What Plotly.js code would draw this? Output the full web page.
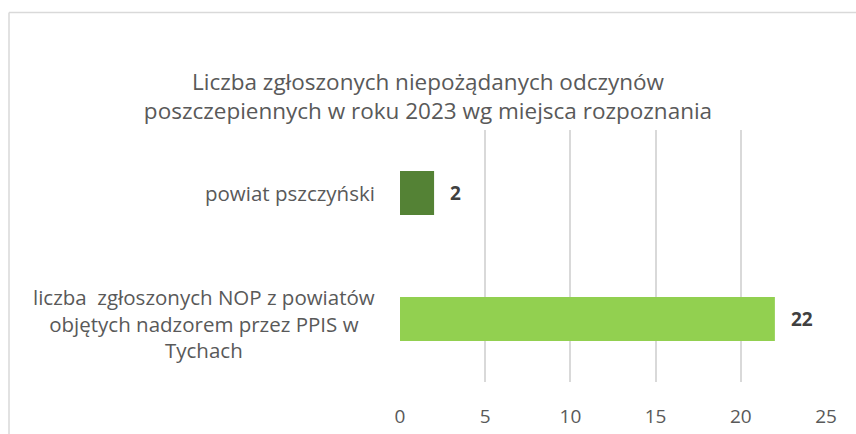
<!DOCTYPE html>
<html><head><meta charset="utf-8">
<script src="https://cdn.plot.ly/plotly-3.0.1.min.js"></script>
<style>html,body{margin:0;padding:0;background:#fff;}#chart{width:856px;height:434px;}</style>
</head><body><div id="chart"></div>
<script>
const categories = ["liczba  zgłoszonych NOP z powiatów<br>objętych nadzorem przez PPIS w<br>Tychach", "powiat pszczyński"];
const values = [22, 2];
const barColors = ["#92D050", "#548235"];
const xTicks = [0, 5, 10, 15, 20, 25];
const titleText = "Liczba zgłoszonych niepożądanych odczynów<br>poszczepiennych w roku 2023 wg miejsca rozpoznania";

const FONT = "'Open Sans', sans-serif";
const trace = {
  type: "bar", orientation: "h",
  y: categories.map((c, i) => i), x: values,
  marker: {color: barColors},
  cliponaxis: false, hoverinfo: "none"
};
const catAnnotations = categories.map((c, i) => ({
  xref: "paper", yref: "y", x: -0.055, y: i, xanchor: "right", yanchor: "middle",
  text: c, showarrow: false, align: "center", yshift: i === 0 ? -4 : 0,
  font: {family: FONT, size: 20.5, color: "#595959"}
}));
const valueAnnotations = values.map((v, i) => ({
  xref: "x", yref: "y", x: v, y: i, xanchor: "left", yanchor: "middle", xshift: 14,
  text: "<b>" + v + "</b>", showarrow: false,
  font: {family: FONT, size: 19, color: "#404040"}
}));
const layout = {
  width: 856, height: 434,
  margin: {l: 400, r: 30, t: 130, b: 52},
  paper_bgcolor: "#fff", plot_bgcolor: "#fff",
  showlegend: false, bargap: 0.65,
  title: {text: titleText, x: 0.5, xref: "container", xanchor: "center", y: 0.793, yref: "container", yanchor: "middle",
          font: {family: FONT, size: 22.5, color: "#595959"}},
  xaxis: {range: [0, 25], tickvals: xTicks, ticktext: xTicks.map(String), showgrid: true,
          gridcolor: "#D9D9D9", gridwidth: 2, zeroline: false, showline: false,
          ticks: "", ticklabelstandoff: 21,
          tickfont: {family: FONT, size: 19, color: "#595959"}, fixedrange: true},
  yaxis: {range: [-0.5, 1.5], showticklabels: false, showgrid: false, zeroline: false,
          showline: false, ticks: "", fixedrange: true},
  annotations: catAnnotations.concat(valueAnnotations),
  shapes: [
    {type: "line", xref: "paper", yref: "paper", x0: (9 - 400) / 426, x1: 1.2, y0: (382 - 12.5) / 252, y1: (382 - 12.5) / 252,
     line: {color: "#D9D9D9", width: 1.5}},
    {type: "line", xref: "paper", yref: "paper", x0: (9 - 400) / 426, x1: (9 - 400) / 426, y0: (382 - 12.5) / 252, y1: -0.5,
     line: {color: "#D9D9D9", width: 1.5}}
  ]
};
Plotly.newPlot("chart", [trace], layout, {displayModeBar: false, staticPlot: true});
</script></body></html>
